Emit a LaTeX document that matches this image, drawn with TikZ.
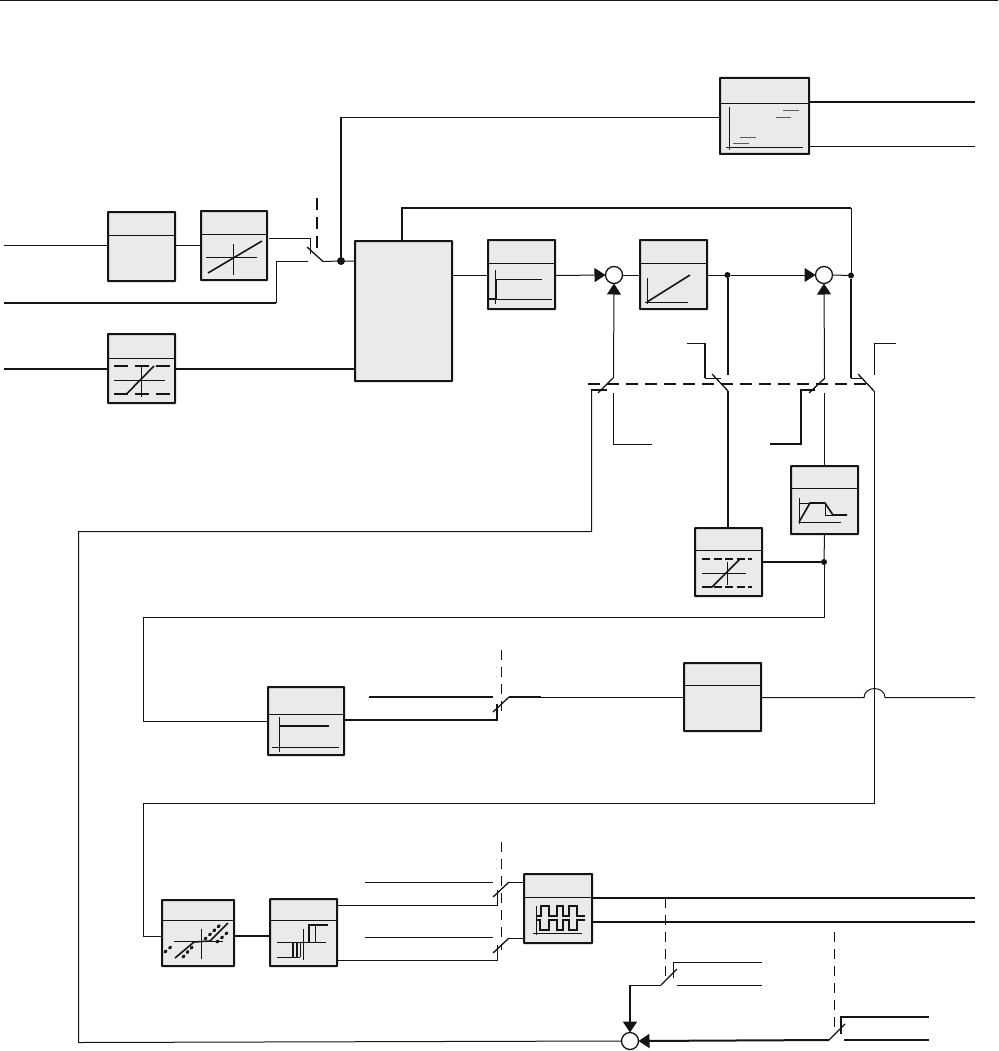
\documentclass[tikz,border=0pt]{standalone}
\usetikzlibrary{arrows.meta}
\definecolor{ink}{HTML}{141414}
\definecolor{boxfill}{HTML}{EAEAEA}
\tikzset{
  blk/.style={draw=ink,fill=boxfill,line width=2pt,rectangle,inner sep=0pt,outer sep=0pt,rounded corners=0.4pt},
  sumnode/.style={draw=ink,fill=white,circle,line width=1.3pt,minimum size=17pt,inner sep=0pt,outer sep=0pt},
  bigdot/.style={fill=ink,circle,minimum size=8pt,inner sep=0pt,outer sep=0pt},
  smalldot/.style={fill=ink,circle,minimum size=6pt,inner sep=0pt,outer sep=0pt},
  wa/.style={draw=ink,line width=1pt},
  wb/.style={draw=ink,line width=2pt},
  wm/.style={draw=ink,line width=1pt},
  blade/.style={draw=ink,line width=1.3pt},
  pa/.style={draw=ink,line width=0.8pt},
  pb/.style={draw=ink,line width=1.6pt},
  dashthin/.style={draw=ink,line width=1pt,dash pattern=on 10pt off 7pt},
  dashthick/.style={draw=ink,line width=2pt,dash pattern=on 12pt off 7pt},
  pdash/.style={draw=ink,line width=1.5pt,dash pattern=on 8pt off 3.5pt},
  pdashb/.style={draw=ink,line width=2pt,dash pattern=on 14pt off 7pt},
  dots/.style={draw=ink,line width=3pt,line cap=round,dash pattern=on 1.5pt off 4.5pt},
  tip/.style={-{Triangle[length=11pt,width=14pt]}},
}
\newcommand{\blk}[6]{%
  \node[blk,minimum width={(#4-#2)*1pt},minimum height={(#5-#3)*1pt}] (#1) at ({(#2+#4)/2},{(#3+#5)/2}) {};
  \draw[draw=ink,line width=0.9pt] (#2,#6) -- (#4,#6);}
\begin{document}
\begin{tikzpicture}[x=1pt,y=-1pt]
\useasboundingbox (0,0) rectangle (998,1051);
\coordinate (tl) at (0,0.6); \coordinate (tr) at (998,0.6);
\draw[draw=ink,line width=1.2pt] (tl) -- (tr);
% blocks
\blk{b1}{108}{212}{175}{281}{235}
\blk{b2}{201}{211}{267}{280}{234}
\blk{b3}{108}{334}{175}{403}{358}
\node[blk,minimum width=97pt,minimum height=140pt] (big) at (403.5,311) {};
\blk{b4}{488}{240}{555}{309}{263}
\blk{b5}{640}{240}{707}{309}{263}
\blk{bt}{720}{78}{809}{154}{103}
\blk{b6}{791}{466}{858}{534}{488}
\blk{b7}{695}{528}{762}{596}{550}
\blk{b8}{268}{687}{344}{755}{714}
\blk{b9}{684}{663}{761}{731}{685}
\blk{b10}{162}{900}{234}{966}{920}
\blk{b11}{270}{899}{337}{966}{920}
\blk{b12}{524}{874}{592}{943}{897}
% summing points and junctions
\node[sumnode] (s1) at (614,275) {};
\node[sumnode] (s2) at (824,275) {};
\node[sumnode] (s3) at (630,1041) {};
\node[bigdot] (j1) at (341,261) {};
\node[smalldot] (j2) at (727.5,275) {};
\node[smalldot] (j3) at (851,275.5) {};
\node[smalldot] (j4) at (824,562) {};
% free ends and switch contacts
\coordinate (i1) at (4,245.5); \coordinate (i2) at (4,303); \coordinate (i3) at (4,369);
\coordinate (sw1a) at (310.5,254); \coordinate (sw1b) at (308,261.5); \coordinate (sw1c) at (323,261.5);
\coordinate (sw1d) at (307,247);
\coordinate (dv1a) at (317,198); \coordinate (dv1b) at (317,255);
% input section
\draw[wa] (i1) -- (i1 -| b1.west);
\draw[wa] (b1.east |- i1) -- (b2.west |- i1);
\draw[wa] (269,238.5) -| (sw1a);
\draw[wb] (i2) -- (276,303);
\draw[wa] (276.5,303) |- (sw1b);
\draw[blade] (sw1d) -- (sw1c);
\draw[wa] (sw1c) -- (j1) -- (j1 -| big.west);
\draw[dashthick] (dv1a) -- (dv1b);
\draw[wb] (i3) -- (i3 -| b3.west);
\draw[wb] (b3.east |- i3) -- (i3 -| big.west);
% top block
\draw[wb] (j1) -- (341,117);
\draw[wa] (341.5,117.5) -- (341.5,117.5 -| bt.west);
\coordinate (ot1) at (975,102); \coordinate (ot2) at (975,146.5);
\draw[wb] (bt.east |- ot1) -- (ot1);
\draw[wa] (bt.east |- ot2) -- (ot2);
% forward path
\draw[wb] (402,241) -- (402,208) -- (851,208);
\draw[wa] (851.5,208) -- (851.5,275.5);
\draw[wa] (big.east |- 0,275.5) -- (b4.west |- 0,275.5);
\draw[wa,tip] (b4.east |- 0,275.5) -- (s1.west);
\draw[wa] (s1.east) -- (b5.west |- s1);
\draw[wa] (b5.east |- s1) -- (j2);
\draw[wa,tip] (j2) -- (s2.west);
\draw[wa] (s2.east) -- (j3);
% limit switch row
\coordinate (h1) at (588,384); \coordinate (h2) at (870,384);
\draw[dashthick] (h1) -- (h2);
\draw[blade] (598,393) -- (613,378);
\draw[wm,tip] (613.5,378) -- (s1.south);
\draw[wb] (591,390) -- (607,390);
\draw[wm] (591.5,390) -- (591.5,531.5) -- (78.5,531.5) -- (78.5,1042.5) -- (s3.west);
\draw[wm] (613.5,393) -- (613.5,444.5) -- (652,444.5);
\draw[blade] (712,374) -- (728,391);
\draw[wb] (j2) -- (727.5,375);
\draw[wa] (687,343.5) -- (705,343.5);
\draw[wb] (705,343) -- (705,378);
\draw[wa] (705,378.5) -- (721,378.5);
\draw[wb] (728,391) -- (728,528);
\draw[blade] (809,393) -- (825,378);
\draw[wa,tip] (824.5,378) -- (s2.south);
\draw[wb] (815,390) -- (801,390) -- (801,444) -- (770,444);
\draw[wa] (824.5,393) -- (824.5,466);
\draw[blade] (858,374) -- (874,391);
\draw[wb] (j3) -- (851,378);
\draw[wa] (851,378.5) -- (863,378.5);
\draw[wa] (874.5,375) -- (874.5,343.5) -- (896,343.5);
\draw[wm] (874.5,391) -- (874.5,803.5) -- (143.5,803.5) -- (143.5,936.5) -- (b10.west |- 0,936.5);
% amplitude section
\draw[wm] (824.5,534) -- (j4);
\draw[wb] (b7.east |- j4) -- (j4);
\draw[wm] (824.5,562) -- (824.5,617.5) -- (143.5,617.5) -- (143.5,721.5) -- (b8.west |- 0,721.5);
\draw[wb] (b8.east |- 0,720) -- (497,720) -- (497,704);
\draw[blade] (493,712) -- (509,697);
\draw[wb] (369,697) -- (493,697);
\draw[wb] (509,697) -- (541,697);
\draw[wm] (541,697.5) -- (b9.west |- 0,697.5);
\draw[dashthin] (501.5,650) -- (501.5,712);
\draw[wm] (b9.east |- 0,697.5) -- (864,697.5) arc[start angle=180,end angle=360,x radius=10.5,y radius=9] -- (975,697.5);
% PWM section
\draw[wb] (b10.east |- 0,936) -- (b11.west |- 0,936);
\draw[wa] (b11.east |- 0,905.5) -- (497.5,905.5) -- (497.5,890);
\draw[wa] (b11.east |- 0,960.5) -- (497.5,960.5) -- (497.5,945);
\draw[blade] (493,897) -- (509,882);
\draw[blade] (493,953) -- (509,938);
\draw[wa] (365,882.5) -- (493,882.5);
\draw[wa] (365,937.5) -- (493,937.5);
\draw[wa] (509,882.5) -- (b12.west |- 0,882.5);
\draw[wa] (509,938.5) -- (b12.west |- 0,938.5);
\draw[dashthin] (501.5,842) -- (501.5,950);
\draw[wb] (b12.east |- 0,898) -- (975,898);
\draw[wb] (b12.east |- 0,922) -- (975,922);
\draw[dashthin] (665.5,898) -- (665.5,978);
\draw[blade] (661,985) -- (677,969);
\draw[wa] (673.5,978) -- (673.5,962.5) -- (762,962.5);
\draw[wa] (677,985.5) -- (762,985.5);
\draw[wa] (661,985.5) -- (630,985.5);
\draw[wb,tip] (630,985) -- (s3.north);
\draw[dashthin] (834.5,932) -- (834.5,1033);
\draw[blade] (829,1040) -- (845,1024);
\draw[wb] (841,1034) -- (841,1017) -- (929,1017);
\draw[wb] (844,1040) -- (929,1040);
\draw[wb,tip] (829,1040) -- (s3.east);
% block icons
\draw[pa] (233.5,244) -- (233.5,275); \draw[pa] (206,257) -- (257,257);
\draw[pb] (208,273) -- (262,241);
\draw[pdashb] (114,366) -- (170,366); \draw[pdashb] (114,393.5) -- (170,393.5);
\draw[pa] (114,380) -- (165,380); \draw[pa] (141.5,366) -- (141.5,397);
\draw[pb] (127,393.5) -- (154,366);
\draw[pa] (729,107) -- (729,150); \draw[pa] (726,147) -- (803,147);
\draw[pa,ink!70] (783,110.5) -- (799,110.5); \draw[pa,ink!70] (776,117) -- (791,117);
\draw[pa,ink!70] (740,137) -- (756,137); \draw[pa,ink!70] (733,143) -- (749,143);
\draw[pa] (495,270) -- (495,304); \draw[pa] (489,299) -- (552,299);
\draw[pb] (489,299) -- (496,299) -- (496,279); \draw[pa] (496,279) -- (542,279);
\draw[pa] (647,278) -- (647,304); \draw[pa] (645,302) -- (688,302);
\draw[pb] (647,302) -- (690,275);
\draw[pa] (799,498) -- (799,524); \draw[pa] (799,522) -- (841,522);
\draw[pa] (799,503) -- (810,503);
\draw[pb] (799,522) -- (810,503) -- (825,503) -- (833,515) -- (847,515);
\draw[pa] (825,503) -- (825,515) -- (833,515);
\draw[pdash] (702,559) -- (752,559); \draw[pdash] (702,587) -- (752,587);
\draw[pa] (702,573) -- (746,573); \draw[pa] (727,562) -- (727,585);
\draw[pb] (702,587) -- (712,587) -- (740,559);
\draw[pa] (279,717) -- (279,752); \draw[pa] (272,747) -- (339,747);
\draw[pb] (279,726) -- (329,726);
\draw[pa] (201,929) -- (201,959); \draw[pa] (174,941) -- (223,941);
\draw[pb] (175,958) -- (194,942) -- (210,941) -- (228,923);
\draw[dots] (165,952) -- (173,945);
\draw[dots] (183,957) -- (195,944);
\draw[dots] (205,939) -- (220,925);
\draw[dots] (217,942) -- (229,931);
\draw[pa] (303,929) -- (303,960); \draw[pa] (277,942) -- (326,942);
\draw[pb] (309,942) -- (309,925) -- (328,925);
\draw[pa] (315,925) -- (315,942);
\draw[pa] (277,957) -- (300,957);
\draw[pb] (293,943) -- (293,957); \draw[pb] (297,943) -- (297,957);
\draw[pa] (300,943) -- (300,957);
\draw[pa] (533,933) -- (582,933); \draw[pa] (536,906) -- (536,935);
\draw[pb] (536,916) -- (541,916) -- (541,906) -- (549,906) -- (549,916) -- (557,916) -- (557,906) -- (563,906) -- (563,916) -- (569,916) -- (569,906) -- (577,906) -- (577,916) -- (585,916);
\draw[pb] (536,920) -- (540,920) -- (540,930) -- (549,930) -- (549,920) -- (557,920) -- (557,930) -- (563,930) -- (563,920) -- (569,920) -- (569,930) -- (577,930) -- (577,920) -- (585,920);
\end{tikzpicture}
\end{document}
